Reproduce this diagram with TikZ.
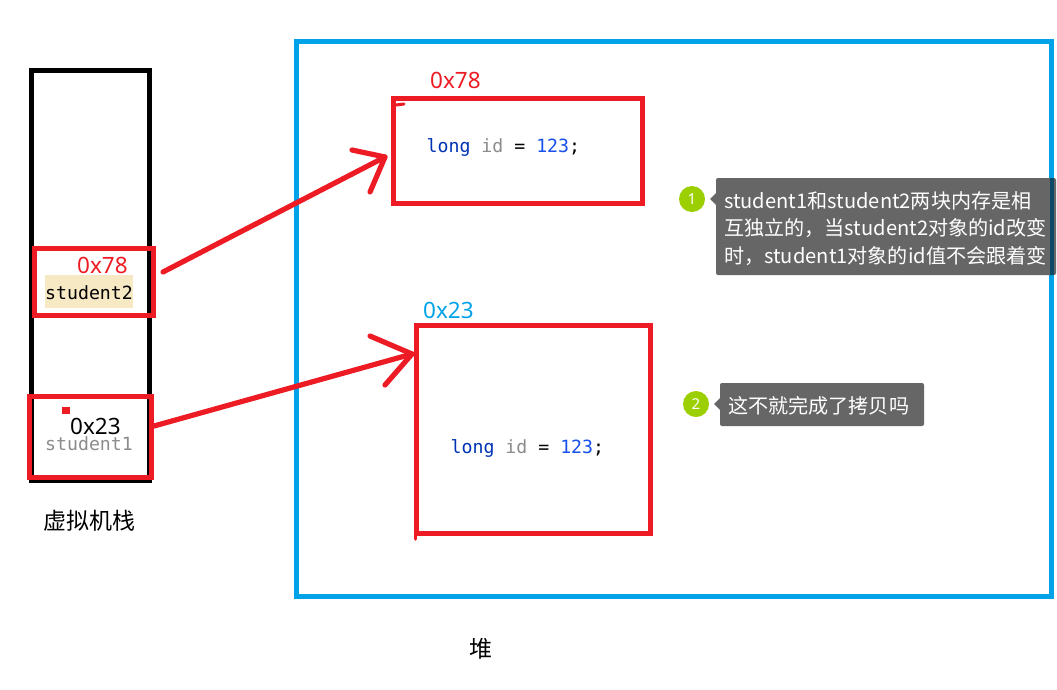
\documentclass[tikz,border=0pt]{standalone}
\usepackage{fontspec}
\setmainfont{Noto Sans CJK SC}
\newfontfamily\codefont{DejaVu Sans Mono}
\newfontfamily\labfont{Noto Sans}
\definecolor{rd}{HTML}{ED1C24}
\definecolor{bl}{HTML}{00A2E8}
\definecolor{bub}{HTML}{666666}
\definecolor{bubdark}{HTML}{0B4A66}
\definecolor{grn}{HTML}{9BCF00}
\definecolor{kw}{HTML}{0033B3}
\definecolor{vr}{HTML}{8C8C8C}
\definecolor{nm}{HTML}{1750EB}
\definecolor{hl}{HTML}{F7E9C4}
\tikzset{
  x=1pt,y=-1pt,
  redbox/.style={draw=rd,line width=5pt,inner sep=0pt,outer sep=0pt,anchor=north west},
  addr/.style={font=\labfont\fontsize{22.5}{22}\selectfont,inner sep=0pt,anchor=west},
  codetxt/.style={font=\codefont\fontsize{18.2}{22}\selectfont,inner sep=0pt,anchor=west},
  captxt/.style={font=\fontsize{23}{24}\selectfont,inner sep=0pt,text=black},
  redstroke/.style={draw=rd,line width=5.2pt,line cap=round,line join=round},
  bubblebox/.style={fill=bub,rounded corners=2pt,inner sep=0pt,outer sep=0pt,anchor=north west},
  bubtxt/.style={text=white,font=\fontsize{20.1}{27.8}\selectfont,inner sep=0pt,anchor=north west,align=left},
  badge/.style={circle,fill=grn,minimum size=26pt,inner sep=0pt,text=white,font=\labfont\fontsize{15}{15}\selectfont},
}
\begin{document}
\begin{tikzpicture}
\useasboundingbox (0,0) rectangle (1057,689);
\fill[white] (0,0) rectangle (1057,689);
% stack
\node[draw=black,line width=5pt,outer sep=0pt,minimum width=118pt,minimum height=410pt,inner sep=0pt,anchor=north west] (stack) at (31,70.5) {};
\node[captxt] (stacklabel) at (89,521) {虚拟机栈};
% heap
\node[draw=bl,line width=5pt,outer sep=0pt,minimum width=755pt,minimum height=555pt,inner sep=0pt,anchor=north west] (heap) at (296.5,41.5) {};
\node[captxt] (heaplabel) at (481,649) {堆};
% highlight
\node[fill=hl,minimum width=88pt,minimum height=33pt,inner sep=0pt,anchor=north west] (hl2) at (45,275) {};
% stack slots
\node[redbox,minimum width=119pt,minimum height=67pt] (s2) at (34.5,248.5) {};
\node[redbox,minimum width=122pt,minimum height=81pt] (s1) at (29.5,396.5) {};
\node[addr,text=rd] (a2) at (77,265) {0x78};
\node[codetxt,text=black] (n2) at (45,292.5) {student2};
\node[fill=rd,minimum width=8pt,minimum height=7pt,inner sep=0pt,anchor=north west] (dot) at (62,407) {};
\node[addr,text=black] (a1) at (70,426) {0x23};
\node[codetxt,text=vr] (n1) at (45,443.5) {student1};
% heap objects
\node[redbox,minimum width=249pt,minimum height=105pt] (o2) at (393.5,98.5) {};
\node[redbox,minimum width=234pt,minimum height=208pt] (o1) at (416.5,325.5) {};
\node[addr,text=rd] (oa2) at (430,80) {0x78};
\node[addr,text=bl] (oa1) at (423,310) {0x23};
\node[codetxt] (c2) at (426.5,147.5) {\textcolor{kw}{long} \textcolor{vr}{id} = \textcolor{nm}{123};};
\node[codetxt] (c1) at (450.5,448.5) {\textcolor{kw}{long} \textcolor{vr}{id} = \textcolor{nm}{123};};
\draw[draw=rd,line width=3pt,line cap=round] (396,105) -- (404,104);
\draw[draw=rd,line width=3.5pt,line cap=round] (415.5,530) -- (415.5,539);
% arrows
\coordinate (t2) at (385,157);
\coordinate (t1) at (412,354);
\coordinate (f2) at (163,272);
\coordinate (f1) at (154,426);
\coordinate (h2a) at (352,150);
\coordinate (h2b) at (370,192);
\coordinate (h1a) at (370,336);
\coordinate (h1b) at (385,385);
\draw[redstroke] (f2) -- (t2);
\draw[redstroke] (h2a) -- (t2) -- (h2b);
\draw[redstroke] (f1) -- (t1);
\draw[redstroke] (h1a) -- (t1) -- (h1b);
% bubbles
\node[bubblebox,minimum width=340pt,minimum height=97pt] (b1) at (716,178) {};
\fill[bubdark] (1049.5,178) rectangle (1054,275);
\fill[bub] (716,193) -- (710,199) -- (716,205) -- cycle;
\node[bubtxt] (b1t) at (724,191) {student1和student2两块内存是相\\互独立的，当student2对象的id改变\\时，student1对象的id值不会跟着变};
\node[badge] (g1) at (692,199) {1};
\node[bubblebox,minimum width=204pt,minimum height=43pt] (b2) at (720,383) {};
\fill[bub] (720,398) -- (714,404) -- (720,410) -- cycle;
\node[bubtxt] (b2t) at (728,396) {这不就完成了拷贝吗};
\node[badge] (g2) at (696,404) {2};
\end{tikzpicture}
\end{document}
